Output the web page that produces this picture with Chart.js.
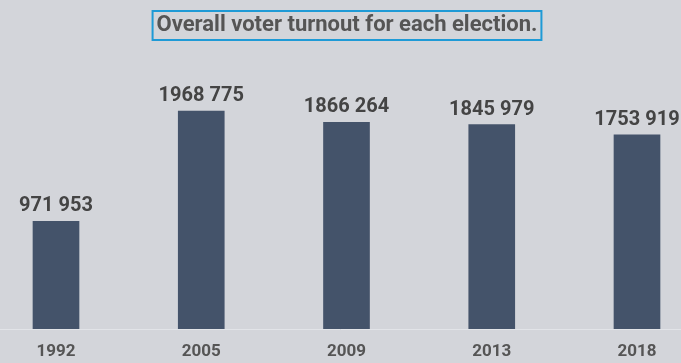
<!DOCTYPE html>
<html>
<head>
<meta charset="utf-8">
<script src="https://cdn.jsdelivr.net/npm/chart.js@4/dist/chart.umd.min.js"></script>
<style>
  html, body { margin: 0; padding: 0; background: #d3d5da; }
  #wrap { width: 681px; height: 363px; position: relative; }
</style>
</head>
<body>
<div id="wrap"><canvas id="turnoutChart" width="681" height="363"></canvas></div>
<script>
const titleText = 'Overall voter turnout for each election.';
const years = ['1992', '2005', '2009', '2013', '2018'];
const turnout = [971953, 1968775, 1866264, 1845979, 1753919];

// only the last three digits are split off with a space, e.g. "1968 775"
function fmt(v) {
    const s = String(v);
    return s.slice(0, -3) + ' ' + s.slice(-3);
}

// title inside a blue box, value labels above bars, full-width baseline
const decor = {
    id: 'decor',
    afterDraw(chart) {
        const ctx = chart.ctx;
        const area = chart.chartArea;
        ctx.save();

        ctx.strokeStyle = '#e2e4e8';
        ctx.lineWidth = 1;
        ctx.beginPath();
        ctx.moveTo(0, area.bottom + 0.5);
        ctx.lineTo(chart.width, area.bottom + 0.5);
        ctx.stroke();

        ctx.font = 'bold 22px Roboto';
        ctx.fillStyle = '#555555';
        ctx.textAlign = 'center';
        ctx.textBaseline = 'middle';
        const tw = ctx.measureText(titleText).width;
        const cx = 347;
        ctx.fillText(titleText, cx, 25);
        ctx.strokeStyle = '#1e9ad6';
        ctx.lineWidth = 2;
        ctx.strokeRect(cx - tw / 2 - 4, 11, tw + 8, 29);

        const meta = chart.getDatasetMeta(0);
        ctx.font = 'bold 20px Roboto';
        ctx.fillStyle = '#444444';
        ctx.textBaseline = 'alphabetic';
        meta.data.forEach((bar, i) => {
            ctx.fillText(fmt(turnout[i]), bar.x, bar.y - 10);
        });
        ctx.restore();
    }
};

const config = {
    type: 'bar',
    data: {
        labels: years,
        datasets: [{
            data: turnout,
            backgroundColor: '#44536a',
            barThickness: 46,
            clip: false
        }]
    },
    options: {
        responsive: false,
        animation: false,
        layout: { padding: { left: 56, right: 44, top: 70, bottom: 0 } },
        plugins: {
            legend: { display: false },
            tooltip: { enabled: false },
            title: { display: false }
        },
        scales: {
            x: {
                offset: false,
                grid: { display: false, drawTicks: false },
                border: { display: false },
                afterFit(scale) { scale.height = 34; },
                ticks: {
                    color: '#555555',
                    font: { family: 'Roboto', size: 17, weight: 'bold' },
                    padding: 13,
                    maxRotation: 0,
                    autoSkip: false
                }
            },
            y: {
                display: false,
                min: 0,
                max: 2340000
            }
        }
    },
    plugins: [decor]
};

window.onload = function() {
    const ctx = document.getElementById('turnoutChart').getContext('2d');
    new Chart(ctx, config);
};
</script>
</body>
</html>
